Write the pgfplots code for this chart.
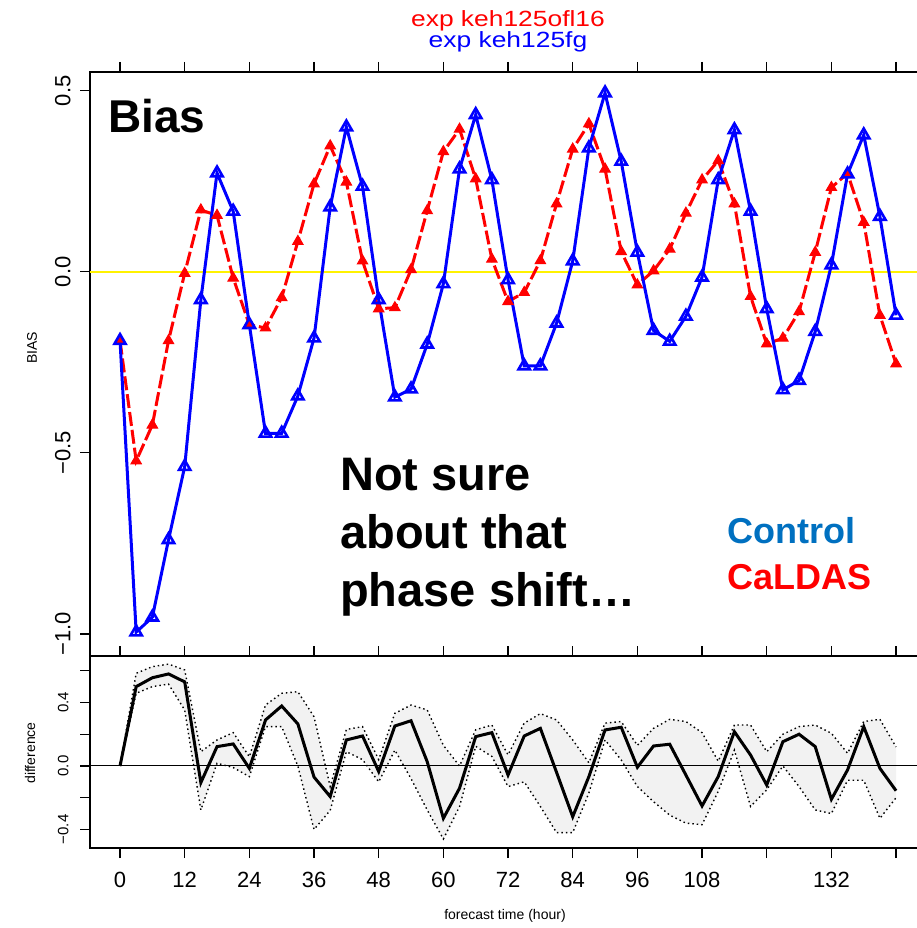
\documentclass[border=0pt]{standalone}
\usepackage{fontspec}
\setmainfont{Liberation Sans}
\usepackage{graphicx}
\usepackage{pgfplots}
\pgfplotsset{compat=1.18}
\usepackage{pgfplotstable}
\definecolor{ctrlblue}{RGB}{0,112,192}
\definecolor{bandgray}{RGB}{242,242,242}

\pgfplotstableread{
x ctrl cal
0 -0.19 -0.19
3 -0.995 -0.522
6 -0.954 -0.423
9 -0.74 -0.19
12 -0.538 -0.004
15 -0.077 0.171
18 0.273 0.156
21 0.167 -0.017
24 -0.146 -0.146
27 -0.446 -0.155
30 -0.446 -0.071
33 -0.343 0.084
36 -0.183 0.243
39 0.179 0.348
42 0.40 0.248
45 0.236 0.030
48 -0.077 -0.102
51 -0.346 -0.099
54 -0.324 0.006
57 -0.20 0.169
60 -0.033 0.332
63 0.284 0.394
66 0.434 0.257
69 0.254 0.035
72 -0.022 -0.082
75 -0.26 -0.057
78 -0.26 0.031
81 -0.142 0.188
84 0.030 0.339
87 0.342 0.409
90 0.494 0.284
93 0.305 0.056
96 0.054 -0.036
99 -0.162 0.003
102 -0.192 0.063
105 -0.123 0.162
108 -0.015 0.254
111 0.254 0.307
114 0.392 0.188
117 0.167 -0.068
120 -0.102 -0.199
123 -0.326 -0.183
126 -0.30 -0.11
129 -0.165 0.054
132 0.019 0.233
135 0.27 0.272
138 0.378 0.137
141 0.153 -0.12
144 -0.12 -0.254
}\biasdata

\pgfplotstableread{
x diff lo hi
0 0 0 0
3 0.50 0.458 0.584
6 0.556 0.50 0.626
9 0.58 0.516 0.642
12 0.53 0.353 0.605
15 -0.105 -0.277 0.09
18 0.122 0.017 0.164
21 0.139 -0.01 0.21
24 -0.015 -0.067 0.058
27 0.29 0.248 0.384
30 0.378 0.248 0.458
33 0.265 0.0 0.468
36 -0.07 -0.40 0.31
39 -0.193 -0.28 -0.13
42 0.164 0.09 0.23
45 0.189 0.04 0.248
48 -0.035 -0.10 0.04
51 0.252 0.10 0.332
54 0.285 -0.08 0.384
57 0.027 -0.277 0.353
60 -0.33 -0.46 0.13
63 -0.14 -0.256 0.0
66 0.185 0.124 0.228
69 0.21 0.06 0.258
72 -0.057 -0.13 0.07
75 0.189 -0.10 0.27
78 0.237 -0.255 0.33
81 -0.04 -0.42 0.29
84 -0.32 -0.42 0.164
87 -0.067 -0.17 0.02
90 0.227 0.164 0.27
93 0.244 0.038 0.28
96 -0.008 -0.13 0.13
99 0.126 -0.225 0.237
102 0.137 -0.31 0.294
105 -0.057 -0.36 0.28
108 -0.252 -0.37 0.21
111 -0.067 -0.16 0.03
114 0.216 0.10 0.258
117 0.069 -0.255 0.258
120 -0.12 -0.15 0.09
123 0.153 0.0 0.20
126 0.20 -0.13 0.248
129 0.122 -0.277 0.258
132 -0.21 -0.30 0.206
135 -0.025 -0.09 0.08
138 0.248 -0.09 0.28
141 -0.015 -0.33 0.294
144 -0.156 -0.20 0.12
}\diffdata

% band outline: upper bound forward, lower bound backward
\pgfplotstableread{
x y
0 0
3 0.584
6 0.626
9 0.642
12 0.605
15 0.09
18 0.164
21 0.21
24 0.058
27 0.384
30 0.458
33 0.468
36 0.31
39 -0.13
42 0.23
45 0.248
48 0.04
51 0.332
54 0.384
57 0.353
60 0.13
63 0.0
66 0.228
69 0.258
72 0.07
75 0.27
78 0.33
81 0.29
84 0.164
87 0.02
90 0.27
93 0.28
96 0.13
99 0.237
102 0.294
105 0.28
108 0.21
111 0.03
114 0.258
117 0.258
120 0.09
123 0.20
126 0.248
129 0.258
132 0.206
135 0.08
138 0.28
141 0.294
144 0.12
144 -0.20
141 -0.33
138 -0.09
135 -0.09
132 -0.30
129 -0.277
126 -0.13
123 0.0
120 -0.15
117 -0.255
114 0.10
111 -0.16
108 -0.37
105 -0.36
102 -0.31
99 -0.225
96 -0.13
93 0.038
90 0.164
87 -0.17
84 -0.42
81 -0.42
78 -0.255
75 -0.10
72 -0.13
69 0.06
66 0.124
63 -0.256
60 -0.46
57 -0.277
54 -0.08
51 0.10
48 -0.10
45 0.04
42 0.09
39 -0.28
36 -0.40
33 0.0
30 0.248
27 0.248
24 -0.067
21 -0.01
18 0.017
15 -0.277
12 0.353
9 0.516
6 0.50
3 0.458
0 0
}\banddata

\pgfplotsset{
  rstyle/.style={
    scale only axis,
    width=833pt,
    xmin=-5.57, xmax=149.0,
    axis line style={line width=1.2pt},
    every tick/.style={black, line width=1.2pt},
    major tick length=10pt,
    tick align=outside,
    xtick={0,12,...,144},
    ytick pos=left,
  }
}

\begin{document}
\begin{tikzpicture}
\useasboundingbox (0pt,0pt) rectangle (917pt,-928pt);

% ---------- top panel ----------
\begin{axis}[rstyle,
  at={(90pt,-72pt)}, anchor=north west,
  height=584pt,
  ymin=-1.061, ymax=0.552,
  xtick pos=right,
  xticklabels={},
  ytick={-1,-0.5,0,0.5},
  yticklabels={−1.0,−0.5,0.0,0.5},
  yticklabel shift=6pt,
  yticklabel style={rotate=90, anchor=south, font=\fontsize{22}{24}\selectfont},
]
\addplot[yellow, line width=1.3pt, forget plot] coordinates {(-5.57,0) (149,0)};
\addplot[red, line width=3pt, dash pattern=on 14pt off 4pt,
  mark=triangle*, mark size=6pt, mark options={solid, fill=red, draw=red, line width=1pt}]
  table[x=x, y=cal] {\biasdata};
\addplot[blue, line width=3pt,
  mark=triangle, mark size=6.5pt, mark options={solid, draw=blue, line width=2.6pt}]
  table[x=x, y=ctrl] {\biasdata};
\end{axis}

% ---------- lower panel ----------
\begin{axis}[rstyle,
  at={(90pt,-656pt)}, anchor=north west,
  height=192pt,
  ymin=-0.517, ymax=0.693,
  xtick pos=both,
  xticklabel pos=left,
  xticklabels={0,12,24,36,48,60,72,84,96,108,,132,},
  xticklabel style={font=\fontsize{22}{24}\selectfont, yshift=-11pt},
  ytick={-0.4,-0.2,0,0.2,0.4,0.6},
  yticklabels={−0.4,,0.0,,0.4,},
  yticklabel shift=8pt,
  yticklabel style={rotate=90, anchor=south, font=\fontsize{15}{17}\selectfont},
]
\addplot[fill=bandgray, draw=none, forget plot] table[x=x, y=y] {\banddata} \closedcycle;
\addplot[black, line width=1pt, forget plot] coordinates {(-5.57,0) (149,0)};
\addplot[black, line width=1.4pt, dash pattern=on 1.5pt off 3pt] table[x=x, y=hi] {\diffdata};
\addplot[black, line width=1.4pt, dash pattern=on 1.5pt off 3pt] table[x=x, y=lo] {\diffdata};
\addplot[black, line width=3pt] table[x=x, y=diff] {\diffdata};
\end{axis}

% ---------- texts ----------
\node[red, inner sep=0, font=\fontsize{22}{24}\selectfont] at (508pt,-21pt) {\scalebox{1.2}[1]{exp keh125ofl16}};
\node[blue, inner sep=0, font=\fontsize{22}{24}\selectfont] at (508pt,-42pt) {\scalebox{1.2}[1]{exp keh125fg}};
\node[rotate=90, inner sep=0, font=\fontsize{14}{16}\selectfont] at (32pt,-348pt) {BIAS};
\node[rotate=90, inner sep=0, font=\fontsize{14}{16}\selectfont] at (30pt,-753pt) {difference};
\node[inner sep=0, font=\fontsize{14}{16}\selectfont] at (505pt,-916pt) {forecast time (hour)};

\node[anchor=base west, inner sep=0, font=\fontsize{46}{50}\selectfont\bfseries] at (108pt,-133pt) {Bias};
\node[anchor=base west, inner sep=0, font=\fontsize{47}{50}\selectfont\bfseries] at (340pt,-490pt) {Not sure};
\node[anchor=base west, inner sep=0, font=\fontsize{47}{50}\selectfont\bfseries] at (340pt,-548pt) {about that};
\node[anchor=base west, inner sep=0, font=\fontsize{47}{50}\selectfont\bfseries] at (340pt,-606pt) {phase shift…};
\node[anchor=base west, inner sep=0, text=ctrlblue, font=\fontsize{36}{40}\selectfont\bfseries] at (727pt,-543pt) {Control};
\node[anchor=base west, inner sep=0, text=red, font=\fontsize{36}{40}\selectfont\bfseries] at (727pt,-589pt) {CaLDAS};
\end{tikzpicture}
\end{document}
